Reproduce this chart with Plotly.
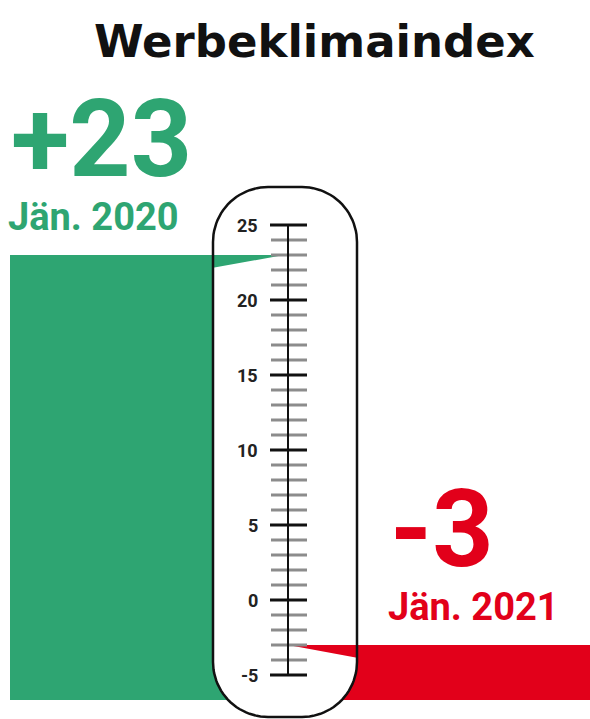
import numpy as np
import plotly.graph_objects as go

# ---------------- data ----------------
TITLE = "Werbeklimaindex"
PERIODS = ["Jän. 2020", "Jän. 2021"]
VALUES = [23, -3]
COLORS = ["#2ea572", "#e2001a"]
TICK_VALUES = [-5, 0, 5, 10, 15, 20, 25]
TICK_LABELS = ["-5", "0", "5", "10", "15", "20", "25"]
MINOR_TICKS = [-4, -3, -2, -1, 1, 2, 3, 4, 6, 7, 8, 9, 11, 12, 13, 14,
               16, 17, 18, 19, 21, 22, 23, 24]
BAR_BASE = -6.67

# ---------------- geometry (pixels) ----------------
W, H = 590, 719
PX_PER_UNIT = 15.0
REF_VAL, REF_PX = 25, 225          # value 25 sits at pixel row 225


def px2v(py):
    return REF_VAL - (py - REF_PX) / PX_PER_UNIT


AXIS_X = 288
TH_L, TH_R, TH_T, TH_B, TH_RAD = 213, 357, 187, 717, 55
BAR_X = [(10, AXIS_X), (AXIS_X, 592)]

fig = go.Figure()

# bars
for (x0, x1), v, c in zip(BAR_X, VALUES, COLORS):
    fig.add_trace(go.Bar(x=[(x0 + x1) / 2], width=[x1 - x0], base=[BAR_BASE],
                         y=[v - BAR_BASE], marker=dict(color=c, line=dict(width=0)),
                         hoverinfo="skip"))


# thermometer body (rounded rectangle)
def rounded_rect(x0, x1, y0, y1, r, n=24):
    xs, ys = [], []
    for cx, cy, a0 in [(x0 + r, y0 + r, 180), (x1 - r, y0 + r, 270),
                       (x1 - r, y1 - r, 0), (x0 + r, y1 - r, 90)]:
        t = np.radians(np.linspace(a0, a0 + 90, n))
        xs += list(cx + r * np.cos(t))
        ys += list(cy + r * np.sin(t))
    xs.append(xs[0]); ys.append(ys[0])
    return xs, [px2v(y) for y in ys]


tx, ty = rounded_rect(TH_L, TH_R, TH_T, TH_B, TH_RAD)
fig.add_trace(go.Scatter(x=tx, y=ty, mode="lines", fill="toself", fillcolor="white",
                         line=dict(width=0, color="white"), hoverinfo="skip"))

# pointer wedges
WEDGE_H = 0.85
g = VALUES[0]
fig.add_trace(go.Scatter(x=[TH_L, AXIS_X - 4, TH_L, TH_L], y=[g, g, g - WEDGE_H, g],
                         mode="lines", fill="toself", fillcolor=COLORS[0],
                         line=dict(width=0, color=COLORS[0]), hoverinfo="skip"))
r_ = VALUES[1]
fig.add_trace(go.Scatter(x=[AXIS_X, TH_R, TH_R, AXIS_X], y=[r_, r_, r_ - WEDGE_H, r_],
                         mode="lines", fill="toself", fillcolor=COLORS[1],
                         line=dict(width=0, color=COLORS[1]), hoverinfo="skip"))

# thermometer outline
fig.add_trace(go.Scatter(x=tx, y=ty, mode="lines",
                         line=dict(width=2.5, color="#111111"), hoverinfo="skip"))

# scale: minor ticks, axis line, major ticks
mx, my = [], []
for v in MINOR_TICKS:
    mx += [271, 307, None]; my += [v, v, None]
fig.add_trace(go.Scatter(x=mx, y=my, mode="lines",
                         line=dict(width=3, color="#8c8c8c"), hoverinfo="skip"))
fig.add_trace(go.Scatter(x=[AXIS_X, AXIS_X], y=[min(TICK_VALUES), max(TICK_VALUES)],
                         mode="lines", line=dict(width=2, color="#111111"),
                         hoverinfo="skip"))
jx, jy = [], []
for v in TICK_VALUES:
    jx += [270, 307, None]; jy += [v, v, None]
fig.add_trace(go.Scatter(x=jx, y=jy, mode="lines",
                         line=dict(width=3, color="#111111"), hoverinfo="skip"))

annotations = []
for v, lab in zip(TICK_VALUES, TICK_LABELS):
    annotations.append(dict(x=260, y=v, xref="x", yref="y", text=lab, showarrow=False,
                            xanchor="right", yanchor="middle",
                            font=dict(family="Roboto", size=18, weight=700,
                                      color="#222222")))


def ypaper(py):
    return 1 - py / H


# title
annotations.append(dict(x=314, y=ypaper(42), xref="x", yref="paper", text=TITLE,
                        showarrow=False, xanchor="center", yanchor="middle",
                        font=dict(family="DejaVu Sans", size=45, weight=700,
                                  color="#111111")))

# value labels
VAL_POS = [(9, 139), (388, 529)]
PER_POS = [(6, 217), (386, 607)]
for v, p, c, (vx, vy), (px_, py_) in zip(VALUES, PERIODS, COLORS, VAL_POS, PER_POS):
    annotations.append(dict(x=vx, y=ypaper(vy), xref="x", yref="paper",
                            text=f"{v:+d}", showarrow=False, xanchor="left",
                            yanchor="middle", height=90, valign="middle",
                            font=dict(family="Roboto", size=107, weight=700, color=c)))
    annotations.append(dict(x=px_, y=ypaper(py_), xref="x", yref="paper",
                            text=p, showarrow=False, xanchor="left",
                            yanchor="middle", height=36, valign="middle",
                            font=dict(family="Roboto", size=38, weight=700, color=c)))

fig.update_layout(
    width=W, height=H, margin=dict(l=0, r=0, t=0, b=0),
    paper_bgcolor="white", plot_bgcolor="white", showlegend=False,
    xaxis=dict(range=[0, W], visible=False, fixedrange=True),
    yaxis=dict(range=[px2v(H), px2v(0)], visible=False, fixedrange=True),
    annotations=annotations, barmode="overlay",
)

fig.write_html("out.html", config={"displayModeBar": False},
               post_script="document.body.style.margin='0';"
                           "document.body.style.overflow='hidden';")
